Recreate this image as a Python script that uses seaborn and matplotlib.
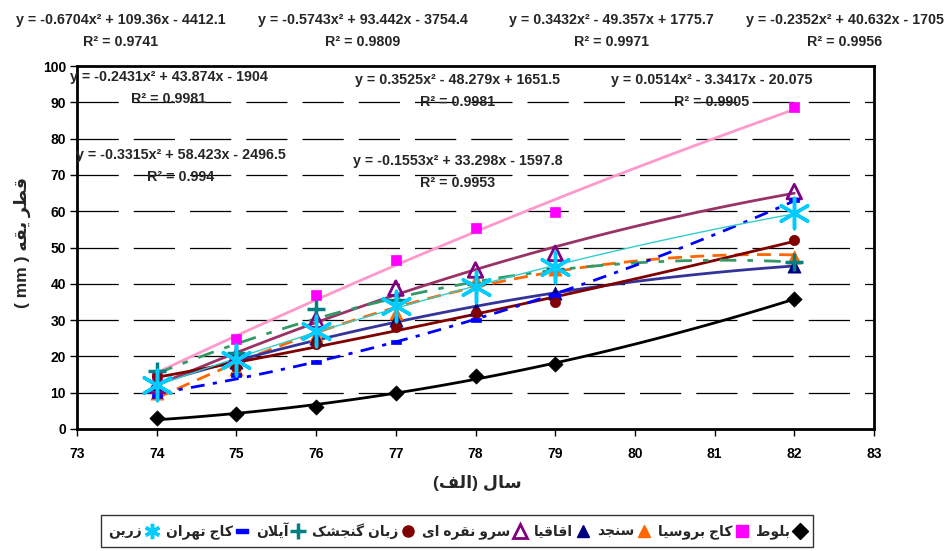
import numpy as np
import matplotlib
matplotlib.use("Agg")
import matplotlib.pyplot as plt
from matplotlib.lines import Line2D
from matplotlib.path import Path
import seaborn as sns

# --- data ---
years = [74, 75, 76, 77, 78, 79, 82]
baloot = [3, 4, 6, 10, 14.5, 18, 35.7]
kaj_brutia = [15, 24.8, 37, 46.6, 55.5, 59.8, 88.8]
senjed = [10, 16.5, 26, 32, 41, 44, 47.5]
aghaghia = [12.5, 18.5, 25, 30, 33, 37.5, 45]
sarv = [12, 20, 30, 38.8, 43.8, 48.4, 65.4]
zaban = [14.5, 17, 23.5, 28, 32, 35, 52]
ailan = [16, 21, 33, 35.5, 40, 44, 46]
kaj_tehran = [9, 15, 18.5, 24, 30, 37, 63]
zarrin = [12, 19, 27, 34, 39, 44.7, 59.4]

names = ["بلوط", "کاج بروسیا", "سنجد", "اقاقیا", "سرو نقره ای",
         "زبان گنجشک", "آیلان", "کاج تهران", "زرین"]

equations = [
    ("y = -0.6704x² + 109.36x - 4412.1\nR² = 0.9741", 121, 31),
    ("y = -0.5743x² + 93.442x - 3754.4\nR² = 0.9809", 363, 31),
    ("y = 0.3432x² - 49.357x + 1775.7\nR² = 0.9971", 611, 31),
    ("y = -0.2352x² + 40.632x - 1705\nR² = 0.9956", 845, 31),
    ("y = -0.2431x² + 43.874x - 1904\nR² = 0.9981", 169, 88),
    ("y = 0.3525x² - 48.279x + 1651.5\nR² = 0.9981", 458, 91),
    ("y = 0.0514x² - 3.3417x - 20.075\nR² = 0.9905", 712, 91),
    ("y = -0.3315x² + 58.423x - 2496.5\nR² = 0.994", 181, 166),
    ("y = -0.1553x² + 33.298x - 1597.8\nR² = 0.9953", 458, 172),
]

# --- minimal Persian shaping (matplotlib has no bidi / joining) ---
FORMS = {
    "\u0627": ("\uFE8D", "\uFE8E", None, None),
    "\u0622": ("\uFE81", "\uFE82", None, None),
    "\u0628": ("\uFE8F", "\uFE90", "\uFE91", "\uFE92"),
    "\u062A": ("\uFE95", "\uFE96", "\uFE97", "\uFE98"),
    "\u062C": ("\uFE9D", "\uFE9E", "\uFE9F", "\uFEA0"),
    "\u062F": ("\uFEA9", "\uFEAA", None, None),
    "\u0631": ("\uFEAD", "\uFEAE", None, None),
    "\u0632": ("\uFEAF", "\uFEB0", None, None),
    "\u0633": ("\uFEB1", "\uFEB2", "\uFEB3", "\uFEB4"),
    "\u0634": ("\uFEB5", "\uFEB6", "\uFEB7", "\uFEB8"),
    "\u0637": ("\uFEC1", "\uFEC2", "\uFEC3", "\uFEC4"),
    "\u0641": ("\uFED1", "\uFED2", "\uFED3", "\uFED4"),
    "\u0642": ("\uFED5", "\uFED6", "\uFED7", "\uFED8"),
    "\u06A9": ("\uFB8E", "\uFB8F", "\uFB90", "\uFB91"),
    "\u0643": ("\uFB8E", "\uFB8F", "\uFB90", "\uFB91"),
    "\u06AF": ("\uFB92", "\uFB93", "\uFB94", "\uFB95"),
    "\u0644": ("\uFEDD", "\uFEDE", "\uFEDF", "\uFEE0"),
    "\u0646": ("\uFEE5", "\uFEE6", "\uFEE7", "\uFEE8"),
    "\u0647": ("\uFEE9", "\uFEEA", "\uFEEB", "\uFEEC"),
    "\u0648": ("\uFEED", "\uFEEE", None, None),
    "\u06CC": ("\uFBFC", "\uFBFD", "\uFBFE", "\uFBFF"),
    "\u064A": ("\uFBFC", "\uFBFD", "\uFBFE", "\uFBFF"),
}
LAM_ALEF = {"\u0627": ("\uFEFB", "\uFEFC"), "\u0622": ("\uFEF5", "\uFEF6")}


def shape(word):
    dual = lambda c: c in FORMS and FORMS[c][2] is not None
    out, i = [], 0
    while i < len(word):
        c = word[i]
        jp = i > 0 and dual(word[i - 1]) and c in FORMS
        if c == "\u0644" and i + 1 < len(word) and word[i + 1] in LAM_ALEF:
            out.append(LAM_ALEF[word[i + 1]][1 if jp else 0])
            i += 2
            continue
        if c not in FORMS:
            out.append(c)
            i += 1
            continue
        jn = dual(c) and i + 1 < len(word) and word[i + 1] in FORMS
        iso, fin, ini, med = FORMS[c]
        out.append(med if jp and jn else fin if jp else ini if jn else iso)
        i += 1
    return "".join(out)


def fa(text):
    vis = " ".join(shape(w)[::-1] for w in reversed(text.split(" ")))
    return vis.translate(str.maketrans("()", ")("))


bar = Path([(-1, -0.45), (1, -0.45), (1, 0.45), (-1, 0.45), (-1, -0.45)])
thin_bar = Path([(-1, -0.3), (1, -0.3), (1, 0.3), (-1, 0.3), (-1, -0.3)])

# --- style per series ---
styles = [
    dict(data=baloot, mcolor="black", marker="D", s=60, lcolor="black", ls="-", lw=2.0),
    dict(data=kaj_brutia, mcolor="#FF00FF", marker="s", s=50, lcolor="#FF99CC", ls="-", lw=2.0),
    dict(data=senjed, mcolor="#FF6600", marker="^", s=90, lcolor="#FF6600", ls=(0, (5, 3)), lw=2.0),
    dict(data=aghaghia, mcolor="#000080", marker="^", s=90, lcolor="#333399", ls="-", lw=2.0),
    dict(data=sarv, mcolor="#800080", marker="^", s=110, lcolor="#993366", ls="-", lw=2.0, open=True),
    dict(data=zaban, mcolor="#800000", marker="o", s=55, lcolor="#800000", ls="-", lw=2.0),
    dict(data=ailan, mcolor="#008080", marker="+", s=170, lcolor="#339966", ls=(0, (6, 4, 2, 4)), lw=2.0),
    dict(data=kaj_tehran, mcolor="#0000FF", marker=bar, s=60, lcolor="#0000FF",
         ls=(0, (5, 3, 1.5, 3)), lw=2.0),
    dict(data=zarrin, mcolor="#00CCFF", marker=(6, 2, 0), s=480, lcolor="#33CCCC", ls="-", lw=1.0),
]

sns.set_theme(style="white")
plt.rcParams["font.family"] = ["Liberation Sans", "DejaVu Sans"]
plt.rcParams["font.weight"] = "bold"

fig = plt.figure(figsize=(9.47, 5.51), dpi=100)
fig.subplots_adjust(left=77 / 947, right=874 / 947, top=1 - 66 / 551, bottom=1 - 429 / 551)
ax = fig.add_subplot(111)

xs = np.linspace(74, 82, 120)
for st in styles:
    coef = np.polyfit(years, st["data"], 2)
    sns.lineplot(x=xs, y=np.polyval(coef, xs), color=st["lcolor"], linewidth=st["lw"],
                 linestyle=st["ls"], ax=ax, zorder=2)

for st in styles:
    kws = dict(x=years, y=st["data"], marker=st["marker"], s=st["s"], ax=ax, zorder=3,
               color=st["mcolor"])
    if st.get("open"):
        kws.update(facecolor="none", edgecolor=st["mcolor"], linewidth=2)
    elif st["marker"] == "+" or isinstance(st["marker"], tuple):
        kws.update(linewidth=2.5)
    else:
        kws.update(edgecolor=st["mcolor"], linewidth=0.5)
    sns.scatterplot(**kws)

ax.set_xlim(73, 83)
ax.set_ylim(0, 100)
ax.set_xticks(range(73, 84))
ax.set_yticks(range(0, 101, 10))
ax.tick_params(axis="both", direction="out", length=5, width=1, colors="black",
               labelsize=10, bottom=True, left=True)
ax.tick_params(axis="x", pad=8)
ax.tick_params(axis="y", pad=3)
for lab in ax.get_xticklabels() + ax.get_yticklabels():
    lab.set_fontweight("bold")
for yv in range(10, 100, 10):
    ax.axhline(yv, color="black", lw=0.9, linestyle=(0, (33, 12)), zorder=1)
for sp in ax.spines.values():
    sp.set_visible(True)
    sp.set_color("black")
    sp.set_linewidth(2)
ax.set_facecolor("white")

ax.set_xlabel("")
ax.set_ylabel("")
fig.text(477 / 947, 1 - 483 / 551, fa("سال (الف)"), ha="center", va="center",
         fontsize=12.5, fontweight="bold")
fig.text(22 / 947, 1 - 242 / 551, fa("قطر یقه ( mm )"), ha="center", va="center",
         rotation=90, fontsize=12.5, fontweight="bold")

for txt, px, py in equations:
    fig.text(px / 947, 1 - py / 551, txt, ha="center", va="center", multialignment="center",
             fontsize=10.3, fontweight="bold", linespacing=1.75)

handles = []
for st in reversed(styles):
    if st.get("open"):
        h = Line2D([], [], linestyle="none", marker="^", markersize=10,
                   markerfacecolor="none", markeredgecolor=st["mcolor"], markeredgewidth=2)
    elif st["marker"] == "+" or isinstance(st["marker"], tuple):
        h = Line2D([], [], linestyle="none", marker=st["marker"], markersize=11,
                   color=st["mcolor"], markeredgewidth=2.5)
    elif st["marker"] is bar:
        h = Line2D([], [], linestyle="none", marker=thin_bar, markersize=8,
                   color=st["mcolor"])
    else:
        h = Line2D([], [], linestyle="none", marker=st["marker"], markersize=8,
                   color=st["mcolor"])
    handles.append(h)
labels = [fa(n) for n in reversed(names)]
leg = fig.legend(handles, labels, loc="center", bbox_to_anchor=(457 / 947, 1 - 531 / 551),
                 ncol=9, markerfirst=False, frameon=True, fancybox=False,
                 handlelength=0.9, handletextpad=0.25, columnspacing=0.55, borderpad=0.55,
                 prop={"weight": "bold", "size": 10})
leg.get_frame().set_edgecolor("black")
leg.get_frame().set_linewidth(1)
leg.get_frame().set_boxstyle("square", pad=0)

fig.savefig("out.png", dpi=100)
